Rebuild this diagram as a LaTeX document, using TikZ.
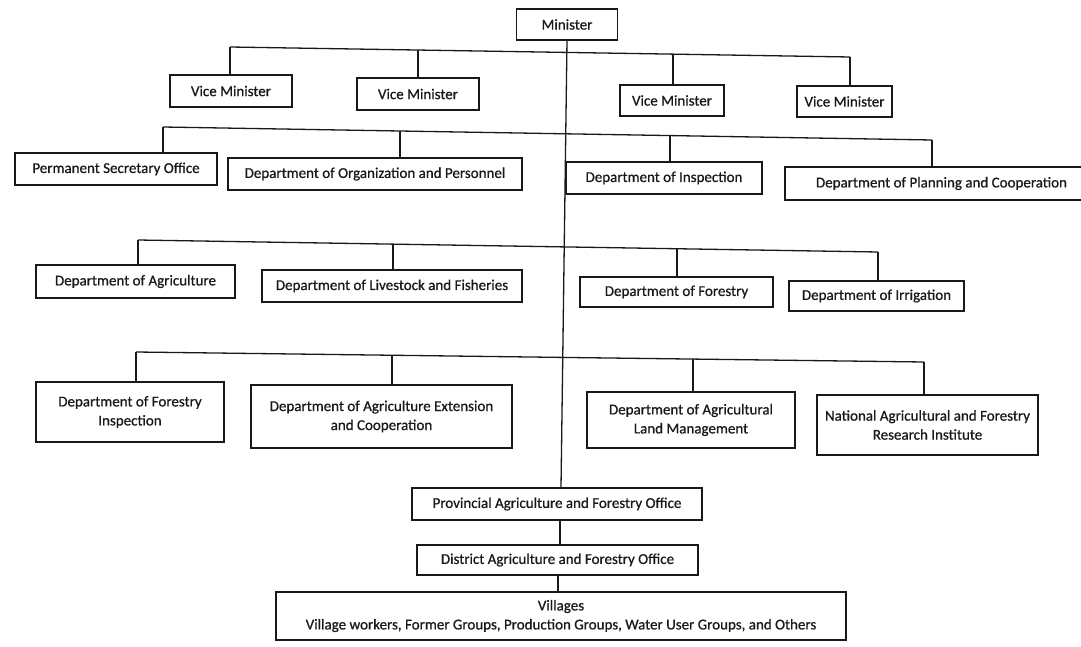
\documentclass[tikz,border=0pt]{standalone}
\usepackage{fontspec}
\setmainfont[FakeBold=0.7]{Carlito}
\begin{document}
\begin{tikzpicture}[x=1pt,y=-1pt,
  box/.style={draw=black!90, line width=1.3pt, fill=white, inner sep=0pt, align=center,
    text=black!90, font=\fontsize{15}{19}\selectfont},
  link/.style={draw=black!90, line width=1.3pt}]
\useasboundingbox[fill=white] (0,0) rectangle (1081,647);
% top
\node[box, minimum width=101, minimum height=31] (min) at (567,24.5) {Minister};
% vice ministers
\node[box, minimum width=122, minimum height=32] (vm1) at (231,91) {Vice Minister};
\node[box, minimum width=122, minimum height=32] (vm2) at (418,94) {Vice Minister};
\node[box, minimum width=104, minimum height=31] (vm3) at (672,100.5) {Vice Minister};
\node[box, minimum width=95, minimum height=31] (vm4) at (844.5,101.5) {Vice Minister};
% row 2
\node[box, minimum width=202, minimum height=32] (pso) at (116,169) {Permanent Secretary Office};
\node[box, minimum width=294, minimum height=32] (dop) at (375,174) {Department of Organization and Personnel};
\node[box, minimum width=196, minimum height=32] (di) at (664,178) {Department of Inspection};
\node[box, minimum width=313, minimum height=33] (dpc) at (941.5,183.5) {Department of Planning and Cooperation};
% row 3
\node[box, minimum width=199, minimum height=33] (da) at (135.5,281.5) {Department of Agriculture};
\node[box, minimum width=260, minimum height=32] (dlf) at (392,286) {Department of Livestock and Fisheries};
\node[box, minimum width=193, minimum height=30] (df) at (676.5,292) {Department of Forestry};
\node[box, minimum width=175, minimum height=30] (dirr) at (876.5,296) {Department of Irrigation};
% row 4
\node[box, minimum width=188, minimum height=60] (dfi) at (130,412) {Department of Forestry\\Inspection};
\node[box, minimum width=261, minimum height=63] (daec) at (381.5,416.5) {Department of Agriculture Extension\\and Cooperation};
\node[box, minimum width=208, minimum height=56] (dalm) at (691,420) {Department of Agricultural\\Land Management};
\node[box, minimum width=221, minimum height=60] (nafri) at (927.5,425) {National Agricultural and Forestry\\Research Institute};
% bottom chain
\node[box, minimum width=290, minimum height=32] (prov) at (557,504) {Provincial Agriculture and Forestry Office};
\node[box, minimum width=281, minimum height=30] (dist) at (557.5,560) {District Agriculture and Forestry Office};
\node[box, minimum width=570, minimum height=48] (vil) at (561,616) {Villages\\Village workers, Former Groups, Production Groups, Water User Groups, and Others};

% bus coordinates
\coordinate (b1a) at (230,47);  \coordinate (b1b) at (418,50);
\coordinate (b1c) at (673,54.1); \coordinate (b1d) at (850,57);
\coordinate (b2a) at (163,127); \coordinate (b2b) at (400,131);
\coordinate (b2c) at (670,135.6); \coordinate (b2d) at (932,140);
\coordinate (b3a) at (138,240); \coordinate (b3b) at (393,244.1);
\coordinate (b3c) at (677,248.7); \coordinate (b3d) at (878,252);
\coordinate (b4a) at (136,352); \coordinate (b4b) at (392,355.2);
\coordinate (b4c) at (693,359.1); \coordinate (b4d) at (924,362);
\coordinate (t1) at (561,0); \coordinate (t2) at (560,0); \coordinate (t3) at (558,0);

% trunk
\draw[link] (min.south) -- (prov.north -| t1);
\draw[link] (prov.south -| t2) -- (dist.north -| t2);
\draw[link] (dist.south -| t3) -- (vil.north -| t3);

% buses
\draw[link] (b1a) -- (b1d);
\draw[link] (b2a) -- (b2d);
\draw[link] (b3a) -- (b3d);
\draw[link] (b4a) -- (b4d);

% drops
\draw[link] (b1a) -- (b1a |- vm1.north);
\draw[link] (b1b) -- (b1b |- vm2.north);
\draw[link] (b1c) -- (b1c |- vm3.north);
\draw[link] (b1d) -- (b1d |- vm4.north);
\draw[link] (b2a) -- (b2a |- pso.north);
\draw[link] (b2b) -- (b2b |- dop.north);
\draw[link] (b2c) -- (b2c |- di.north);
\draw[link] (b2d) -- (b2d |- dpc.north);
\draw[link] (b3a) -- (b3a |- da.north);
\draw[link] (b3b) -- (b3b |- dlf.north);
\draw[link] (b3c) -- (b3c |- df.north);
\draw[link] (b3d) -- (b3d |- dirr.north);
\draw[link] (b4a) -- (b4a |- dfi.north);
\draw[link] (b4b) -- (b4b |- daec.north);
\draw[link] (b4c) -- (b4c |- dalm.north);
\draw[link] (b4d) -- (b4d |- nafri.north);
\end{tikzpicture}
\end{document}
